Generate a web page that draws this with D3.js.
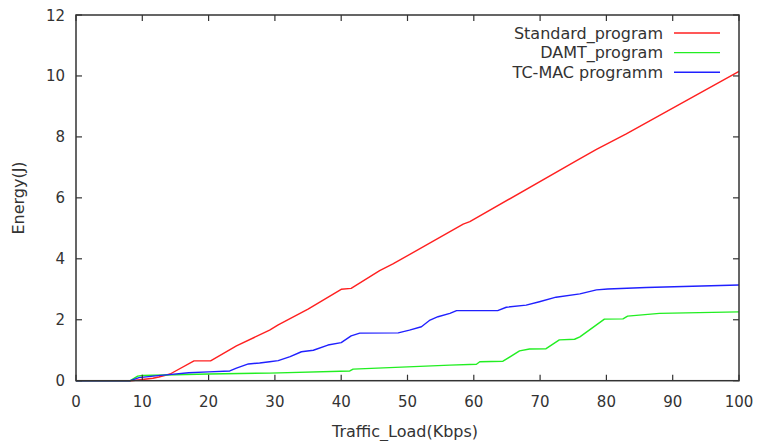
<!DOCTYPE html>
<html><head><meta charset="utf-8">
<script src="https://cdn.jsdelivr.net/npm/d3@7"></script>
<style>
body{margin:0;background:#fff;}
text{font-family:"DejaVu Sans",sans-serif;fill:#333;}
</style></head>
<body><svg id="c" width="759" height="441"></svg>
<script>
const xTicks=[0,10,20,30,40,50,60,70,80,90,100];
const yTicks=[0,2,4,6,8,10,12];
const seriesNames=["Standard_program","DAMT_program","TC-MAC programm"];
const seriesColors=["#ff2020","#22ee22","#2020ff"];
const standardX=[0,8.3,10,11.6,12.5,14.2,17.8,20.3,24.2,29.2,30.5,35,40,41.5,45.8,47.8,58.4,59.4,75.5,78.5,83,100];
const standardY=[0,0,0.04,0.08,0.12,0.22,0.65,0.65,1.14,1.66,1.83,2.35,3.0,3.03,3.61,3.83,5.14,5.22,7.22,7.59,8.1,10.15];
const damtX=[0,8.2,9.3,10,20,29.2,41.3,41.8,56.4,60.4,60.9,64.4,66.9,68.4,70.9,72.9,75.2,76,79.7,82.5,83.2,88,100];
const damtY=[0,0,0.15,0.17,0.22,0.25,0.32,0.38,0.51,0.54,0.62,0.64,0.98,1.04,1.05,1.34,1.36,1.44,2.02,2.03,2.12,2.21,2.26];
const tcmacX=[0,8.2,9.5,12,14,17,20,23.2,24.2,26,27.7,29.2,30.5,32.3,34,35.8,38,40,41.5,42.8,48.6,50.3,52.1,53.4,54.6,56.4,57.4,63.6,64.9,67.9,69.9,72.4,76,78.5,80.2,86,100];
const tcmacY=[0,0,0.1,0.16,0.2,0.26,0.29,0.32,0.41,0.55,0.58,0.62,0.66,0.79,0.95,1.0,1.17,1.25,1.47,1.56,1.57,1.66,1.77,1.99,2.1,2.21,2.3,2.3,2.41,2.48,2.59,2.74,2.85,2.98,3.01,3.06,3.14];

const svg=d3.select("#c");
const L=76,R=739,T=15,B=380.7;
const x=d3.scaleLinear().domain([0,100]).range([L,R]);
const y=d3.scaleLinear().domain([0,12]).range([B,T]);

const data=[[standardX,standardY],[damtX,damtY],[tcmacX,tcmacY]].map(([xs,ys])=>xs.map((v,i)=>[v,ys[i]]));
const line=d3.line().x(d=>x(d[0])).y(d=>y(d[1]));

const plot=svg.append("g");
[0,1,2].forEach(i=>{
  plot.append("path").datum(data[i]).attr("d",line).attr("fill","none")
    .attr("stroke",seriesColors[i]).attr("stroke-width",1.4).attr("stroke-linejoin","round");
});

const tk=6;
const ax=svg.append("g").attr("stroke","#333").attr("stroke-width",1.2);
xTicks.forEach(t=>{
  ax.append("line").attr("x1",x(t)).attr("x2",x(t)).attr("y1",B).attr("y2",B-tk);
  ax.append("line").attr("x1",x(t)).attr("x2",x(t)).attr("y1",T).attr("y2",T+tk);
});
yTicks.forEach(t=>{
  ax.append("line").attr("y1",y(t)).attr("y2",y(t)).attr("x1",L).attr("x2",L+tk);
  ax.append("line").attr("y1",y(t)).attr("y2",y(t)).attr("x1",R).attr("x2",R-tk);
});
ax.append("rect").attr("x",L).attr("y",T).attr("width",R-L).attr("height",B-T).attr("fill","none").attr("stroke-width",1.5);

svg.append("g").selectAll("text").data(xTicks).join("text")
  .attr("x",d=>x(d)).attr("y",407).attr("text-anchor","middle").attr("font-size",15).text(d=>d);
svg.append("g").selectAll("text").data(yTicks).join("text")
  .attr("x",65).attr("y",d=>y(d)+5.5).attr("text-anchor","end").attr("font-size",15).text(d=>d);

svg.append("text").attr("x",405).attr("y",437).attr("text-anchor","middle").attr("font-size",16).text("Traffic_Load(Kbps)");
svg.append("text").attr("transform","translate(24,198) rotate(-90)").attr("text-anchor","middle").attr("font-size",16).text("Energy(J)");

const lg=svg.append("g");
seriesNames.forEach((n,i)=>{
  const yy=33+i*19.6;
  lg.append("text").attr("x",663).attr("y",yy+5.5).attr("text-anchor","end").attr("font-size",16).text(n);
  lg.append("line").attr("x1",674).attr("x2",720).attr("y1",yy).attr("y2",yy).attr("stroke",seriesColors[i]).attr("stroke-width",1.4);
});
</script></body></html>
